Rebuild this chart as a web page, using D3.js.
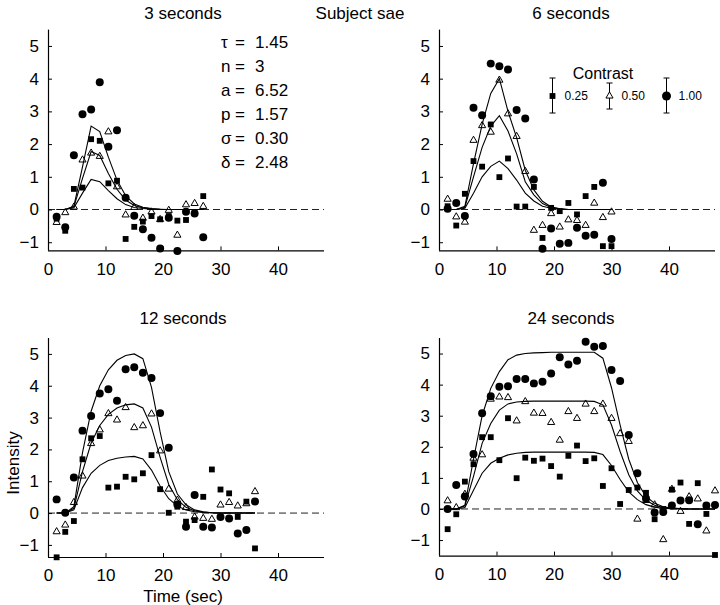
<!DOCTYPE html>
<html><head><meta charset="utf-8">
<script src="https://cdn.jsdelivr.net/npm/d3@7"></script>
<style>body{margin:0;background:#fff}text{font-family:"Liberation Sans",Arial,Helvetica,sans-serif;fill:#000}</style>
</head><body>
<svg id="chart" width="720" height="605"></svg>
<script>
// ---------- DATA ----------
const panelTitles = ["3 seconds", "6 seconds", "12 seconds", "24 seconds"];
const contrastLevels = ["0.25", "0.50", "1.00"];
const xTicks = [0, 10, 20, 30, 40];
const yTicks = [-1, 0, 1, 2, 3, 4, 5];
const paramLabels = ["τ", "n", "a", "p", "σ", "δ"];
const paramValues = ["1.45", "3", "6.52", "1.57", "0.30", "2.48"];

// 3 seconds
const time3 = [1.5,3,4.5,6,7.5,9,10.5,12,13.5,15,16.5,18,19.5,21,22.5,24,25.5,27];
const sq3  = [-0.28,-0.65,0.63,0.67,2.15,2.10,0.80,0.88,-0.90,-0.53,-0.37,-0.20,-0.30,-0.20,-0.34,-0.32,-0.10,0.41];
const tri3 = [-0.37,-0.07,0.10,1.54,1.75,1.65,2.40,0.72,-0.14,0.09,-0.24,-0.05,-0.28,0.00,-0.76,0.17,0.21,0.12];
const cir3 = [-0.22,-0.54,1.66,2.91,3.06,3.89,1.92,2.42,0.36,-0.19,-0.60,-0.86,-1.19,-0.25,-1.27,-0.07,-0.12,-0.85];
const fitLow3  = [0,0,0.05,0.50,0.92,0.85,0.58,0.33,0.15,0.06,0.03,0.01,0,0,0,0,0,0];
const fitMid3  = [0,0,0.08,0.95,1.77,1.65,1.10,0.62,0.29,0.12,0.05,0.02,0.01,0,0,0,0,0];
const fitHigh3 = [0,0,0.10,1.30,2.55,2.38,1.60,0.90,0.42,0.17,0.07,0.03,0.01,0,0,0,0,0];

// 6 seconds
const time6 = [1.5,3,4.5,6,7.5,9,10.5,12,13.5,15,16.5,18,19.5,21,22.5,24,25.5,27,28.5,30];
const sq6  = [0.10,-0.49,0.48,1.48,1.31,2.60,0.99,1.56,0.09,0.09,0.69,-0.87,0.05,-0.05,0.20,-0.15,0.41,0.69,-1.12,-1.12];
const tri6 = [0.34,-0.20,-0.36,2.14,2.59,2.39,3.98,2.95,2.26,1.19,-0.61,-0.46,-0.10,-0.51,-0.29,-0.31,-0.46,0.22,-0.22,-0.05];
const cir6 = [0.02,0.20,-0.20,3.11,2.88,4.46,4.38,4.28,3.04,2.78,0.92,-1.20,-0.58,-1.05,-1.02,-0.56,-0.80,-0.77,0.82,-0.90];
const fitLow6  = [0,0,0.04,0.50,1.00,1.32,1.48,1.25,0.90,0.50,0.26,0.10,0.04,0.01,0,0,0,0,0,0];
const fitMid6  = [0,0,0.07,1.00,1.90,2.55,2.87,2.40,1.70,0.85,0.45,0.18,0.06,0.02,0,0,0,0,0,0];
const fitHigh6 = [0,0,0.10,1.40,2.60,3.55,4.00,3.00,2.20,1.20,0.60,0.25,0.08,0.02,0,0,0,0,0,0];

// 12 seconds
const time12 = [1.5,3,4.5,6,7.5,9,10.5,12,13.5,15,16.5,18,19.5,21,22.5,24,25.5,27,28.5,30,31.5,33,34.5,36];
const sq12  = [-1.39,-0.59,-0.25,1.69,2.35,2.42,0.80,0.83,1.14,1.06,1.25,1.82,0.75,0.01,0.20,-0.27,-0.22,0.51,1.37,0.74,0.62,-0.12,0.36,-1.11];
const tri12 = [-0.56,-0.35,0.36,1.19,2.21,2.64,3.15,2.95,3.34,2.71,2.77,3.14,1.98,0.78,0.43,0.20,-0.10,-0.14,-0.17,0.28,0.36,0.25,0.32,0.70];
const cir12 = [0.43,0.01,1.12,2.59,3.05,3.76,3.89,3.53,4.52,4.58,4.41,4.24,3.14,2.05,0.27,-0.43,0.57,-0.43,-0.45,-0.12,-0.17,-0.64,-0.53,0.36];
const fitLow12  = [0,0,0.10,0.80,1.25,1.50,1.65,1.72,1.76,1.78,1.70,1.35,0.85,0.45,0.22,0.10,0.04,0.02,0.01,0,0,0,0,0];
const fitMid12  = [0,0,0.15,1.30,2.20,2.75,3.10,3.30,3.40,3.43,3.30,2.70,1.75,0.90,0.42,0.18,0.07,0.03,0.01,0,0,0,0,0];
const fitHigh12 = [0,0,0.20,1.90,3.20,4.00,4.50,4.80,4.95,5.00,4.85,3.95,2.55,1.30,0.60,0.26,0.10,0.04,0.01,0,0,0,0,0];

// 24 seconds
const time24 = [1.5,3,4.5,6,7.5,9,10.5,12,13.5,15,16.5,18,19.5,21,22.5,24,25.5,27,28.5,30,31.5,33,34.5,36,37.5,39,40.5,42,43.5,45,46.5,48];
const sq24  = [-0.65,-0.17,0.88,1.44,2.31,2.31,1.57,2.92,0.99,1.65,1.55,1.62,1.38,1.04,1.71,2.04,1.54,1.63,0.74,1.31,0.16,0.61,0.69,0.52,-0.33,0.00,0.62,0.85,-0.48,0.83,-0.16,-1.48];
const tri24 = [0.29,0.07,0.50,1.66,1.77,3.56,3.63,3.61,2.86,3.48,3.11,3.10,2.81,2.24,3.16,2.94,3.40,3.16,3.40,2.94,2.45,2.20,-0.30,0.30,0.16,-0.96,0.66,-0.05,0.42,0.35,-0.68,0.61];
const cir24 = [0.00,0.77,0.40,1.77,3.08,3.63,3.93,3.95,4.18,4.18,4.04,4.09,4.36,4.88,4.65,4.77,5.38,5.22,5.24,4.47,4.12,2.38,1.15,0.34,-0.11,-0.10,0.11,0.27,0.28,-0.49,0.11,0.13];
const fitLow24  = [0,0,0.05,0.60,1.15,1.47,1.63,1.74,1.79,1.82,1.83,1.83,1.83,1.83,1.83,1.83,1.83,1.82,1.75,1.40,0.95,0.55,0.30,0.14,0.06,0.02,0.01,0,0,0,0,0];
const fitMid24  = [0,0,0.10,1.05,2.11,2.75,3.18,3.38,3.44,3.46,3.47,3.47,3.47,3.47,3.47,3.47,3.47,3.46,3.35,2.70,1.85,1.10,0.58,0.28,0.12,0.05,0.02,0.01,0,0,0,0];
const fitHigh24 = [0,0,0.12,1.60,3.00,3.88,4.42,4.80,4.95,5.00,5.02,5.03,5.04,5.04,5.04,5.04,5.04,5.04,4.85,3.90,2.70,1.60,0.85,0.40,0.18,0.07,0.03,0.01,0,0,0,0];

// ---------- LAYOUT ----------
const panels = [
  {title: panelTitles[0], time: time3,  sq: sq3,  tri: tri3,  cir: cir3,  fits: [fitLow3, fitMid3, fitHigh3],
   x0: 48, top: 29.6, bottom: 250.4, yMin: -1.25, yMax: 5.5, titleX: 183, titleY: 19},
  {title: panelTitles[1], time: time6,  sq: sq6,  tri: tri6,  cir: cir6,  fits: [fitLow6, fitMid6, fitHigh6],
   x0: 439, top: 29.6, bottom: 250.4, yMin: -1.25, yMax: 5.5, titleX: 571, titleY: 19},
  {title: panelTitles[2], time: time12, sq: sq12, tri: tri12, cir: cir12, fits: [fitLow12, fitMid12, fitHigh12],
   x0: 48, top: 338, bottom: 557, yMin: -1.38, yMax: 5.5, titleX: 183, titleY: 324},
  {title: panelTitles[3], time: time24, sq: sq24, tri: tri24, cir: cir24, fits: [fitLow24, fitMid24, fitHigh24],
   x0: 439, top: 338, bottom: 555.6, yMin: -1.5, yMax: 5.5, titleX: 571, titleY: 324}
];
const xMax = 48, pxPerSec = 5.75;

const svg = d3.select("#chart");
const symSquare = d3.symbol().type(d3.symbolSquare).size(34)();
const symTri = d3.symbol().type(d3.symbolTriangle).size(22)();
const symCircle = d3.symbol().type(d3.symbolCircle).size(50)();

panels.forEach((p, i) => {
  const x = d3.scaleLinear().domain([0, xMax]).range([p.x0, p.x0 + xMax * pxPerSec]);
  const y = d3.scaleLinear().domain([p.yMin, p.yMax]).range([p.bottom, p.top]);
  const g = svg.append("g");

  // zero dashed line
  g.append("line").attr("x1", x(0)).attr("x2", x(xMax)).attr("y1", y(0)).attr("y2", y(0))
    .attr("stroke", "#222").attr("stroke-width", 1).attr("stroke-dasharray", "7,4");

  // axes
  const xAxis = d3.axisBottom(x).tickValues(xTicks).tickSize(-4).tickPadding(8).tickFormat(d3.format("d"));
  const gx = g.append("g").attr("transform", `translate(0,${p.bottom})`).call(xAxis);
  gx.select(".domain").attr("d", `M${x(0)},0.5H${x(xMax)}`).attr("stroke", "#000").attr("stroke-width", 1.2);
  gx.selectAll("text").attr("font-size", 17).attr("dy", "0.95em").attr("font-family", '"Liberation Sans",Arial,sans-serif');

  const yAxis = d3.axisLeft(y).tickValues(yTicks).tickSize(-4).tickPadding(9)
    .tickFormat(d => d < 0 ? "\u2212" + Math.abs(d) : String(d));
  const gy = g.append("g").attr("transform", `translate(${p.x0},0)`).call(yAxis);
  gy.select(".domain").attr("d", `M0.5,${p.top}V${p.bottom}`).attr("stroke", "#000").attr("stroke-width", 1.2);
  gy.selectAll("text").attr("font-size", 17).attr("font-family", '"Liberation Sans",Arial,sans-serif');

  // fitted curves
  const line = d3.line().x((d, k) => x(p.time[k])).y(d => y(d));
  p.fits.forEach(f => {
    g.append("path").attr("d", line(f)).attr("fill", "none").attr("stroke", "#000").attr("stroke-width", 1.1);
  });

  // markers
  g.selectAll(".c").data(p.cir).enter().append("path")
    .attr("d", symCircle).attr("transform", (d, k) => `translate(${x(p.time[k])},${y(d)})`).attr("fill", "#000");
  g.selectAll(".s").data(p.sq).enter().append("path")
    .attr("d", symSquare).attr("transform", (d, k) => `translate(${x(p.time[k])},${y(d)})`).attr("fill", "#000");
  g.selectAll(".t").data(p.tri).enter().append("path")
    .attr("d", symTri).attr("transform", (d, k) => `translate(${x(p.time[k])},${y(d) + 0.8})`)
    .attr("fill", "none").attr("stroke", "#000").attr("stroke-width", 1);

  // title
  svg.append("text").attr("x", p.titleX).attr("y", p.titleY).attr("text-anchor", "middle")
    .attr("font-size", 17).text(p.title);
});

// overall labels
svg.append("text").attr("x", 360).attr("y", 19).attr("text-anchor", "middle").attr("font-size", 17).text("Subject sae");
svg.append("text").attr("transform", "translate(19,463) rotate(-90)").attr("text-anchor", "middle")
  .attr("font-size", 17).text("Intensity");
svg.append("text").attr("x", 183).attr("y", 602).attr("text-anchor", "middle").attr("font-size", 17).text("Time (sec)");

// parameters
paramLabels.forEach((lab, k) => {
  const yy = 48 + k * 24;
  svg.append("text").attr("x", 221).attr("y", yy).attr("font-size", 17).text(lab);
  svg.append("text").attr("x", 240).attr("y", yy).attr("text-anchor", "middle").attr("font-size", 17).text("=");
  svg.append("text").attr("x", 255).attr("y", yy).attr("font-size", 17).text(paramValues[k]);
});

// legend
svg.append("text").attr("x", 603).attr("y", 79).attr("text-anchor", "middle").attr("font-size", 16).text("Contrast");
const legItems = [
  {sym: symSquare, x: 552.5, y1: 78, y2: 113, fill: "#000", stroke: "none"},
  {sym: symTri, x: 609.5, y1: 83, y2: 109, fill: "none", stroke: "#000"},
  {sym: d3.symbol().type(d3.symbolCircle).size(64)(), x: 666.5, y1: 78, y2: 113, fill: "#000", stroke: "none"}
];
legItems.forEach((it, k) => {
  const gl = svg.append("g");
  gl.append("line").attr("x1", it.x).attr("x2", it.x).attr("y1", it.y1).attr("y2", it.y2).attr("stroke", "#000");
  [it.y1, it.y2].forEach(yy => gl.append("line").attr("x1", it.x - 3).attr("x2", it.x + 3)
    .attr("y1", yy).attr("y2", yy).attr("stroke", "#000"));
  gl.append("path").attr("d", it.sym).attr("transform", `translate(${it.x},${96})`)
    .attr("fill", it.fill === "none" ? "#fff" : it.fill).attr("stroke", it.stroke);
  gl.append("text").attr("x", it.x + 12).attr("y", 100).attr("font-size", 12).text(contrastLevels[k]);
});
</script>
</body></html>
